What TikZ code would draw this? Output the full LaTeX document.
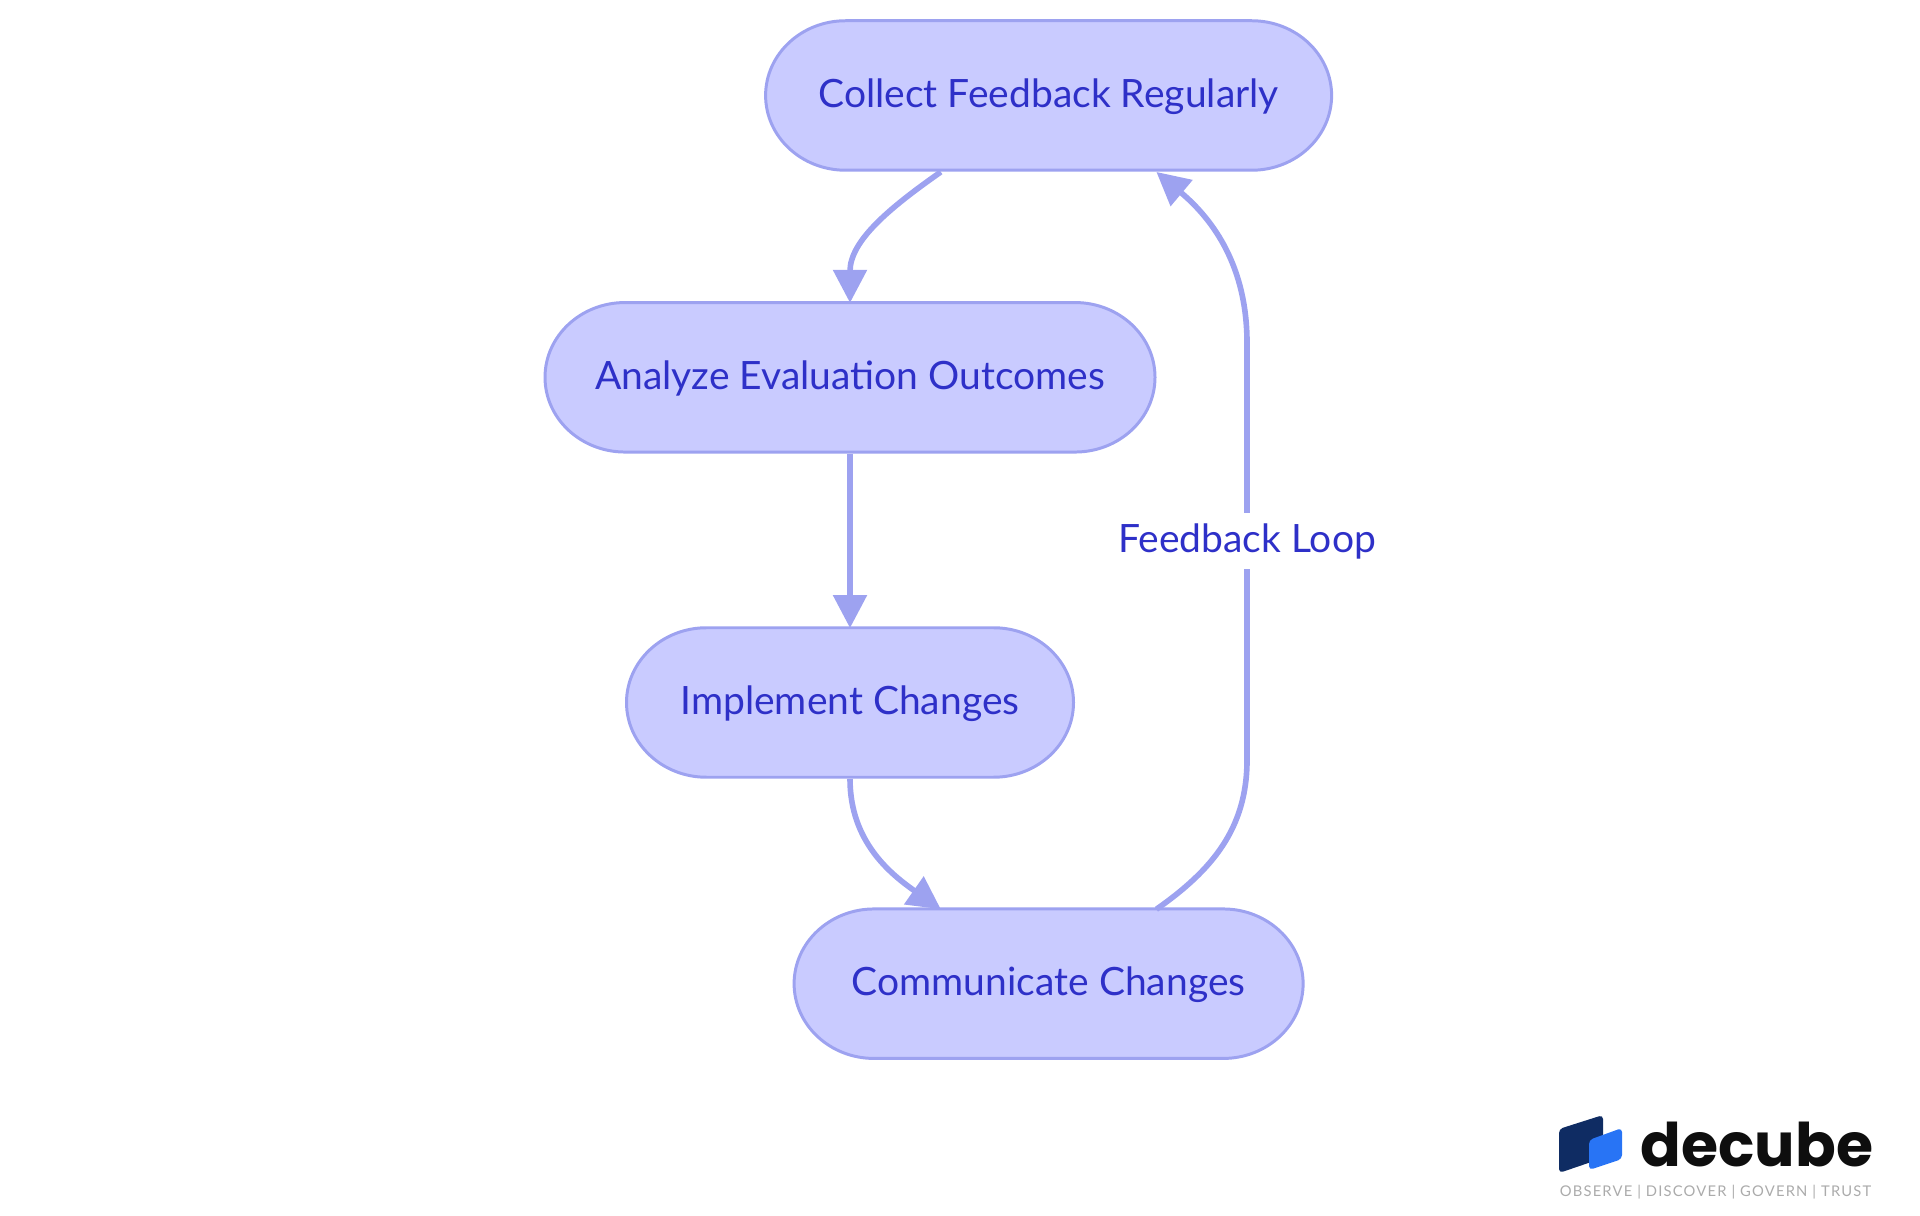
\documentclass[tikz,border=0pt]{standalone}
\usepackage{fontspec}
\setmainfont{Lato}
\newfontfamily\logofont{Poppins}
\usepackage{tikz}
\usetikzlibrary{arrows.meta}
\usetikzlibrary{calc}
\definecolor{nodefill}{HTML}{C9CBFF}
\definecolor{nodeline}{HTML}{9DA2F0}
\definecolor{nodetext}{HTML}{2E30C8}
\definecolor{logodark}{HTML}{0F2C63}
\definecolor{logolight}{HTML}{2874F5}
\definecolor{logotext}{HTML}{0E0E0E}
\definecolor{logogray}{HTML}{ABABAB}
\begin{document}
\begin{tikzpicture}
[nodedecorate/.style={shape=rectangle,inner sep=0pt,minimum height=1.495cm,text=nodetext,
    font=\fontsize{11.1}{13}\selectfont},%
  shapedecorate/.style={draw=nodeline,fill=nodefill,line width=0.85pt},%
  linedecorate/.style={-{Triangle[length=0.33cm,width=0.33cm]},draw=nodeline,line width=1.6pt}]
\useasboundingbox (0,0) rectangle (19.2,12.15);
%% nodes or vertices
\foreach \nodename/\x/\y/\wide/\nodelabel in {collect/10.486/11.195/5.66/Collect Feedback Regularly,
  analyze/8.50/8.377/6.10/Analyze Evaluation Outcomes,
  implement/8.50/5.125/4.47/Implement Changes,
  communicate/10.486/2.313/5.09/Communicate Changes}
{
  \draw [shapedecorate] (\x-\wide/2+0.8,\y+0.7475) -- (\x+\wide/2-0.8,\y+0.7475)
    arc[start angle=90,end angle=-90,x radius=0.8,y radius=0.7475]
    -- (\x-\wide/2+0.8,\y-0.7475)
    arc[start angle=270,end angle=90,x radius=0.8,y radius=0.7475] -- cycle;
  \node (\nodename) at (\x,\y-0.01) [nodedecorate,minimum width=\wide cm] {\nodelabel};
}
\coordinate (looplow) at (12.47,4.55);
\coordinate (loophigh) at (12.47,8.72);
%% edges or lines
\path
\foreach \startnode/\endnode/\outangle/\inangle in {collect.215/analyze.north/215/90,
  analyze.south/implement.north/-90/90,
  implement.south/communicate.145/-90/145}
{
  (\startnode) edge[linedecorate,out=\outangle,in=\inangle] node {} (\endnode)
};
\draw [linedecorate] (communicate.35) to[out=35,in=-90] (looplow) -- (loophigh)
  to[out=90,in=-40] (collect.-35);
\node (looplabel) at (12.47,6.74) [fill=white,inner sep=3pt,text=nodetext,
  font=\fontsize{11.1}{13}\selectfont] {Feedback Loop};
%% logo
\fill [logodark,rounded corners=0.04cm] (15.59,0.42) -- (15.59,0.86) -- (16.03,1.00) -- (16.03,0.57) -- cycle;
\fill [logolight,rounded corners=0.04cm] (15.89,0.45) -- (15.89,0.75) -- (16.22,0.87) -- (16.22,0.56) -- cycle;
\node (logoname) at (17.57,0.49) [anchor=base,inner sep=0pt,text=logotext,
  font=\fontsize{17.1}{20}\logofont\bfseries] {decube};
\node (logotag) at (17.155,0.233) [inner sep=0pt,text=logogray,
  font=\fontsize{4.2}{5}\selectfont\addfontfeatures{LetterSpace=8}] {OBSERVE | DISCOVER | GOVERN | TRUST};
\end{tikzpicture}
\end{document}
